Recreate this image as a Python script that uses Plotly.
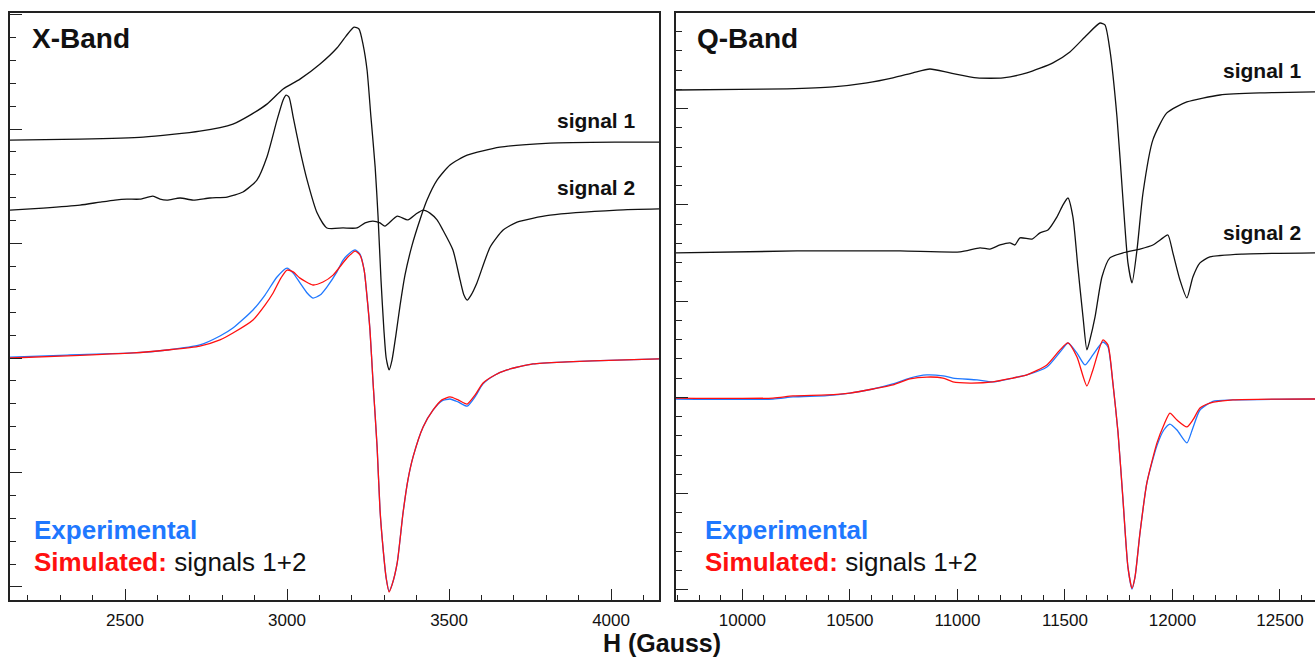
import plotly.graph_objects as go

# ---------------- X-band (left panel) ----------------
xb_sig1_h = [2145, 2361, 2556, 2731, 2833, 2886, 2938, 2988, 3040, 3102, 3154, 3182, 3207, 3222, 3235, 3247,
             3259, 3272, 3281, 3290, 3299, 3306, 3315, 3324, 3336, 3349, 3364, 3386, 3410, 3432, 3463, 3503,
             3556, 3657, 3812, 4019, 4148]
xb_sig1_i = [19.52, 19.56, 19.65, 19.91, 20.22, 20.61, 21.09, 21.75, 22.18, 22.84, 23.54, 24.06, 24.45, 24.37,
             23.67, 22.58, 20.52, 18.34, 16.16, 13.41, 11.22, 10.00, 9.48, 9.91, 11.00, 12.31, 13.62, 14.93,
             16.03, 16.90, 17.77, 18.43, 18.86, 19.21, 19.39, 19.43, 19.43]

xb_sig2_h = [2145, 2247, 2361, 2423, 2469, 2506, 2546, 2586, 2608, 2630, 2670, 2710, 2762, 2815, 2864, 2907,
             2938, 2969, 2988, 2997, 3006, 3019, 3040, 3062, 3093, 3123, 3173, 3216, 3241, 3265, 3287, 3302,
             3340, 3373, 3398, 3420, 3441, 3463, 3481, 3512, 3534, 3546, 3556, 3568, 3586, 3627, 3667, 3710,
             3812, 4019, 4148]
xb_sig2_i = [16.46, 16.55, 16.68, 16.81, 16.90, 16.94, 16.94, 17.07, 16.94, 16.90, 16.99, 16.90, 16.99, 17.03,
             17.25, 17.77, 18.78, 20.39, 21.27, 21.48, 21.40, 20.52, 19.08, 17.77, 16.33, 15.68, 15.68, 15.68,
             15.90, 15.98, 15.90, 15.76, 16.20, 16.03, 16.29, 16.46, 16.33, 16.03, 15.59, 14.72, 13.41, 12.75,
             12.53, 12.75, 13.28, 14.85, 15.59, 15.94, 16.24, 16.46, 16.51]

xb_sim_h = [2145, 2321, 2525, 2630, 2731, 2793, 2833, 2895, 2932, 2957, 2981, 3000, 3019, 3040, 3080, 3111,
            3142, 3185, 3210, 3225, 3238, 3247, 3256, 3265, 3278, 3287, 3296, 3306, 3315, 3324, 3340, 3358,
            3373, 3389, 3420, 3451, 3478, 3503, 3528, 3556, 3580, 3605, 3642, 3679, 3759, 3864, 4019, 4148]
xb_sim_i = [10.00, 10.09, 10.22, 10.35, 10.52, 10.79, 11.09, 11.66, 12.31, 12.84, 13.49, 13.84, 13.76, 13.49,
            13.19, 13.32, 13.62, 14.37, 14.67, 14.50, 13.84, 12.66, 11.22, 9.04, 6.11, 3.36, 1.75, 0.39, -0.22,
            0.09, 1.05, 3.23, 4.67, 5.68, 6.99, 7.73, 8.17, 8.30, 8.17, 7.99, 8.38, 8.91, 9.26, 9.48, 9.74,
            9.83, 9.91, 9.96]

xb_exp_h = [2145, 2321, 2525, 2630, 2731, 2793, 2833, 2895, 2932, 2969, 3000, 3019, 3040, 3062, 3080, 3102,
            3123, 3154, 3173, 3194, 3210, 3225, 3238, 3247, 3256, 3265, 3278, 3287, 3296, 3306, 3315, 3324,
            3340, 3358, 3373, 3389, 3420, 3451, 3478, 3503, 3528, 3556, 3580, 3605, 3642, 3679, 3759, 3864,
            4019, 4148]
xb_exp_i = [10.04, 10.13, 10.22, 10.35, 10.57, 10.96, 11.31, 12.10, 12.75, 13.54, 13.93, 13.71, 13.28, 12.84,
            12.62, 12.75, 13.10, 13.76, 14.28, 14.59, 14.72, 14.54, 13.84, 12.66, 11.22, 9.04, 6.11, 3.36,
            1.75, 0.39, -0.18, 0.09, 1.05, 3.23, 4.67, 5.68, 6.99, 7.73, 8.13, 8.21, 8.08, 7.90, 8.30, 8.87,
            9.26, 9.48, 9.74, 9.83, 9.91, 9.96]

# ---------------- Q-band (right panel) ----------------
qb_sig1_h = [9691, 9988, 10207, 10421, 10579, 10700, 10793, 10872, 10965, 11091, 11212, 11323, 11444, 11523,
             11602, 11663, 11686, 11709, 11742, 11770, 11793, 11812, 11835, 11863, 11909, 11974, 12067, 12221,
             12407, 12663]
qb_sig1_i = [25.97, 26.00, 26.03, 26.13, 26.34, 26.60, 26.86, 27.06, 26.86, 26.60, 26.60, 26.86, 27.38, 27.95,
             28.83, 29.45, 29.35, 28.05, 24.57, 20.26, 16.99, 15.95, 17.66, 20.62, 23.38, 24.78, 25.35, 25.71,
             25.82, 25.87]

qb_sig2_h = [9691, 10254, 10733, 11012, 11105, 11151, 11198, 11244, 11267, 11291, 11347, 11384, 11421, 11463,
             11491, 11514, 11537, 11560, 11584, 11602, 11616, 11640, 11672, 11709, 11770, 11849, 11909, 11956,
             11979, 12002, 12035, 12067, 12095, 12128, 12174, 12328, 12663]
qb_sig2_i = [17.51, 17.61, 17.61, 17.56, 17.77, 17.71, 17.92, 18.03, 17.92, 18.29, 18.23, 18.55, 18.70, 19.38,
             20.00, 20.36, 19.38, 16.78, 14.18, 12.47, 12.99, 14.18, 16.26, 17.25, 17.51, 17.71, 17.92, 18.29,
             18.44, 17.51, 16.10, 15.17, 16.26, 16.99, 17.30, 17.45, 17.51]

qb_sim_h = [9691, 10142, 10235, 10393, 10500, 10607, 10700, 10779, 10858, 10933, 10979, 11058, 11165, 11258,
            11323, 11416, 11477, 11514, 11556, 11602, 11630, 11677, 11700, 11723, 11747, 11770, 11793, 11812,
            11826, 11849, 11881, 11928, 11960, 11988, 12021, 12067, 12095, 12128, 12174, 12281, 12663]
qb_sim_i = [9.97, 9.97, 10.08, 10.13, 10.23, 10.44, 10.65, 10.96, 11.06, 11.01, 10.81, 10.75, 10.81, 11.01,
            11.17, 11.69, 12.47, 12.83, 12.10, 10.60, 11.43, 12.99, 12.73, 10.75, 8.16, 4.68, 1.19, 0.10, 0.68,
            2.96, 5.56, 7.64, 8.57, 9.19, 8.83, 8.47, 8.83, 9.45, 9.71, 9.87, 9.92]

qb_exp_h = [9691, 10142, 10235, 10393, 10500, 10607, 10700, 10779, 10858, 10933, 10979, 11091, 11165, 11258,
            11323, 11416, 11477, 11514, 11556, 11593, 11630, 11677, 11700, 11723, 11747, 11770, 11793, 11812,
            11826, 11849, 11881, 11928, 11960, 11988, 12021, 12067, 12095, 12128, 12188, 12281, 12663]
qb_exp_i = [9.92, 9.92, 10.03, 10.10, 10.23, 10.44, 10.70, 11.01, 11.17, 11.12, 11.01, 10.91, 10.81, 11.01,
            11.17, 11.58, 12.36, 12.83, 12.30, 11.69, 12.21, 12.88, 12.62, 10.75, 8.16, 4.68, 1.19, 0.05, 0.68,
            2.96, 5.56, 7.50, 8.31, 8.62, 8.31, 7.64, 8.42, 9.35, 9.80, 9.87, 9.92]

x_range_xband = [2145, 4148]
x_range_qband = [9691, 12663]

BLACK = "#111111"
BLUE = "#1f78ff"
RED = "#ff1010"
FONT = "Liberation Sans, Arial, sans-serif"

fig = go.Figure()

def add_line(x, y, color, xa, ya, width=1.3):
    fig.add_trace(go.Scatter(x=x, y=y, mode="lines", xaxis=xa, yaxis=ya,
                             line=dict(color=color, width=width, shape="spline", smoothing=0.6),
                             hoverinfo="skip", showlegend=False))

add_line(xb_sig1_h, xb_sig1_i, BLACK, "x", "y")
add_line(xb_sig2_h, xb_sig2_i, BLACK, "x", "y")
add_line(xb_exp_h, xb_exp_i, BLUE, "x", "y")
add_line(xb_sim_h, xb_sim_i, RED, "x", "y")
add_line(qb_sig1_h, qb_sig1_i, BLACK, "x2", "y2")
add_line(qb_sig2_h, qb_sig2_i, BLACK, "x2", "y2")
add_line(qb_exp_h, qb_exp_i, BLUE, "x2", "y2")
add_line(qb_sim_h, qb_sim_i, RED, "x2", "y2")

W, H = 1315, 658
ydom = [58 / H, (H - 13) / H]

xcommon = dict(showline=True, linecolor="#222", linewidth=1.5, ticks="inside", ticklen=11, tickwidth=1,
               tickcolor="#222", dtick=500, showgrid=False, zeroline=False, tickformat="d",
               minor=dict(ticks="inside", ticklen=5, dtick=100, tickcolor="#222", showgrid=False),
               tickfont=dict(family=FONT, size=17, color="#111"), mirror=True, ticklabelstandoff=4)
ycommon = dict(showline=True, linecolor="#222", linewidth=1.5, ticks="inside", ticklen=12, tickwidth=1,
               tickcolor="#222", dtick=5, tick0=0, showgrid=False, zeroline=False, showticklabels=False,
               minor=dict(ticks="inside", ticklen=6, dtick=1, tickcolor="#222", showgrid=False))

fig.update_layout(
    width=W, height=H, margin=dict(l=0, r=0, t=0, b=0),
    paper_bgcolor="white", plot_bgcolor="white",
    xaxis=dict(domain=[10 / W, 659 / W], range=x_range_xband, anchor="y", tick0=2500, **xcommon),
    yaxis=dict(domain=ydom, range=[-0.57, 25.07], anchor="x", mirror=True, **ycommon),
    xaxis2=dict(domain=[676 / W, 1.0], range=x_range_qband, anchor="y2", tick0=10000, **xcommon),
    yaxis2=dict(domain=ydom, range=[-0.52, 29.97], anchor="x2", mirror=False, **ycommon),
)

def ann(text, x, y, size, color="#111", xanchor="left", bold=True, yanchor="middle"):
    fig.add_annotation(text=("<b>%s</b>" % text) if bold else text, x=x / W, y=(H - y) / H,
                       xref="paper", yref="paper", xanchor=xanchor, yanchor=yanchor, showarrow=False,
                       font=dict(family=FONT, size=size, color=color), borderpad=0)

ann("X-Band", 31, 38, 28)
ann("Q-Band", 696, 38, 28)
ann("signal 1", 556, 120, 21)
ann("signal 2", 556, 187, 21)
ann("signal 1", 1222, 71, 21)
ann("signal 2", 1222, 232, 21)
ann("Experimental", 33, 530, 26, BLUE)
ann("<b><span style='color:%s'>Simulated:</span></b> signals 1+2" % RED, 33, 562, 26, bold=False)
ann("Experimental", 704, 530, 26, BLUE)
ann("<b><span style='color:%s'>Simulated:</span></b> signals 1+2" % RED, 704, 562, 26, bold=False)
ann("H (Gauss)", 662, 658, 25, xanchor="center", yanchor="bottom")

fig.write_html("out.html")
